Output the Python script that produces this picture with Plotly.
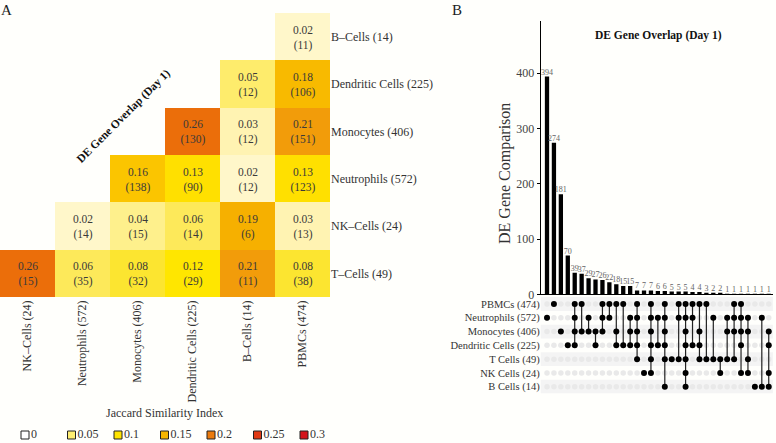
import plotly.graph_objects as go

W, H = 776, 443
BG = "#FFFFFC"
FONT = "Liberation Serif"

# ---------------- Panel A data ----------------
hm_rows = ["B–Cells (14)", "Dendritic Cells (225)", "Monocytes (406)",
           "Neutrophils (572)", "NK–Cells (24)", "T–Cells (49)"]
hm_cols = ["NK–Cells (24)", "Neutrophils (572)", "Monocytes (406)",
           "Dendritic Cells (225)", "B–Cells (14)", "PBMCs (474)"]
jaccard = [
    [None, None, None, None, None, 0.02],
    [None, None, None, None, 0.05, 0.18],
    [None, None, None, 0.26, 0.03, 0.21],
    [None, None, 0.16, 0.13, 0.02, 0.13],
    [None, 0.02, 0.04, 0.06, 0.19, 0.03],
    [0.26, 0.06, 0.08, 0.12, 0.21, 0.08],
]
overlap = [
    [None, None, None, None, None, 11],
    [None, None, None, None, 12, 106],
    [None, None, None, 130, 12, 151],
    [None, None, 138, 90, 12, 123],
    [None, 14, 15, 14, 6, 13],
    [15, 35, 32, 29, 11, 38],
]
legend_vals = ["0", "0.05", "0.1", "0.15", "0.2", "0.25", "0.3"]
legend_cols = ["#FFFFFF", "#FFEE72", "#FFE400", "#F7B600", "#EB7A0C", "#E03A14", "#D3141C"]

# ---------------- Panel B data ----------------
set_names = ["PBMCs (474)", "Neutrophils (572)", "Monocytes (406)",
             "Dendritic Cells (225)", "T Cells (49)", "NK Cells (24)", "B Cells (14)"]
set_keys = ["PBMC", "Neut", "Mono", "DC", "T", "NK", "B"]
counts = [394, 274, 181, 70, 39, 37, 29, 27, 26, 22, 18, 15, 15, 7, 7, 7, 6, 6,
          5, 5, 5, 4, 4, 3, 2, 2, 1, 1, 1, 1, 1, 1, 1]
intersections = [
    ["Neut"], ["PBMC"], ["Mono"], ["DC"],
    ["PBMC", "Neut", "Mono", "DC"], ["PBMC", "Mono"], ["Neut", "Mono"], ["Mono", "DC"],
    ["PBMC", "Neut", "Mono"], ["PBMC", "Neut"], ["PBMC", "Mono", "DC"], ["PBMC", "DC"],
    ["Neut", "Mono", "DC"], ["PBMC", "Neut", "Mono", "DC", "T"], ["NK"],
    ["PBMC", "Neut", "Mono", "DC", "T", "NK"],
    ["Neut", "DC"], ["PBMC", "Neut", "Mono", "DC", "T", "B"], ["T"], ["PBMC", "Neut", "T"],
    ["PBMC", "Neut", "Mono", "DC", "T", "NK", "B"], ["PBMC", "Neut", "DC"],
    ["PBMC", "Mono", "DC", "T"], ["PBMC", "T"],
    ["Neut", "T"], ["T", "NK"], ["Neut", "Mono", "T"], ["PBMC", "Neut", "Mono", "T"],
    ["PBMC", "Neut", "Mono", "DC", "NK"], ["Neut", "Mono", "T", "NK"], ["B"], ["Neut", "B"],
    ["Mono", "DC", "NK", "B"],
]


def fx(p):
    return p / W


def fy(p):
    return 1 - p / H


fig = go.Figure()

# ---- Heatmap ----
text = [["" if j is None else f"{j:.2f}<br>({o})" for j, o in zip(jr, orow)]
        for jr, orow in zip(jaccard, overlap)]
cscale = [
    [0.0, "#FFFFFF"], [0.067, "#FFF7CA"], [0.1, "#FFF3B2"], [0.133, "#FEF08C"],
    [0.167, "#FEEC6C"], [0.2, "#FDE95A"], [0.267, "#FCE530"], [0.4, "#FFE600"],
    [0.433, "#FFE000"], [0.533, "#FBC500"], [0.6, "#F8BA00"], [0.633, "#F6B000"],
    [0.7, "#F29C0A"], [0.867, "#EB6E0A"], [1.0, "#D3141C"],
]
fig.add_trace(go.Heatmap(
    z=jaccard, x=hm_cols, y=hm_rows, text=text, texttemplate="%{text}",
    textfont=dict(family=FONT, size=11.5, color="#3a3a3a"),
    colorscale=cscale, zmin=0, zmax=0.3, showscale=False,
    xaxis="x", yaxis="y", hoverinfo="skip"))

# ---- Jaccard legend (keys) ----
fig.add_trace(go.Scatter(
    x=list(range(len(legend_vals))), y=[0] * len(legend_vals),
    mode="markers+text", text=legend_vals, textposition="middle right",
    textfont=dict(family=FONT, size=12, color="#333"),
    marker=dict(symbol="square", size=8, color=legend_cols,
                line=dict(color="#222", width=1)),
    xaxis="x4", yaxis="y4", showlegend=False, hoverinfo="skip", cliponaxis=False))

# ---- Bars ----
fig.add_trace(go.Bar(
    x=list(range(len(counts))), y=counts, width=0.62,
    marker=dict(color="black", line=dict(width=0)),
    text=[str(c) for c in counts], textposition="outside",
    textfont=dict(family=FONT, size=8, color="#666"),
    outsidetextfont=dict(family=FONT, size=8, color="#666"),
    constraintext="none", cliponaxis=False,
    xaxis="x2", yaxis="y2", showlegend=False, hoverinfo="skip"))

# ---- Matrix ----
ex, ey = [], []
for i in range(len(intersections)):
    for j in range(len(set_keys)):
        ex.append(i)
        ey.append(j)
fig.add_trace(go.Scatter(x=ex, y=ey, mode="markers",
                         marker=dict(size=5.5, color="#E9E9E9"),
                         xaxis="x3", yaxis="y3", showlegend=False, hoverinfo="skip"))
lx, ly, fxs, fys = [], [], [], []
for i, s in enumerate(intersections):
    idx = sorted(set_keys.index(k) for k in s)
    for j in idx:
        fxs.append(i)
        fys.append(j)
    if len(idx) > 1:
        lx += [i, i, None]
        ly += [idx[0], idx[-1], None]
fig.add_trace(go.Scatter(x=lx, y=ly, mode="lines", line=dict(color="#222", width=1.2),
                         xaxis="x3", yaxis="y3", showlegend=False, hoverinfo="skip"))
fig.add_trace(go.Scatter(x=fxs, y=fys, mode="markers",
                         marker=dict(size=6, color="black"),
                         xaxis="x3", yaxis="y3", showlegend=False, hoverinfo="skip"))

shapes = []
for j in range(0, len(set_keys), 2):
    shapes.append(dict(type="rect", xref="x3 domain", yref="y3", x0=0, x1=1,
                       y0=j - 0.5, y1=j + 0.5, fillcolor="#F4F4F4",
                       line=dict(width=0), layer="below"))


def ann(text, x, y, size, color="#333", angle=0):
    return dict(text=text, x=fx(x), y=fy(y), xref="paper", yref="paper",
                showarrow=False, xanchor="center", yanchor="middle",
                textangle=angle, font=dict(size=size, color=color))


xr = [-0.91, 32.6]
fig.update_layout(
    width=W, height=H, margin=dict(l=0, r=0, t=0, b=0, autoexpand=False),
    paper_bgcolor=BG, plot_bgcolor="rgba(0,0,0,0)",
    font=dict(family=FONT, size=11, color="#333"),
    showlegend=False, shapes=shapes,
    xaxis=dict(domain=[0, fx(330)], anchor="y", tickangle=-90, showgrid=False,
               zeroline=False, ticks="", automargin=False,
               tickfont=dict(size=12, color="#333"), fixedrange=True),
    yaxis=dict(domain=[fy(297), fy(13)], anchor="x", autorange="reversed", side="right",
               showgrid=False, zeroline=False, ticks="", automargin=False,
               tickfont=dict(size=12, color="#333"), fixedrange=True),
    xaxis2=dict(domain=[fx(540.7), fx(772.9)], anchor="y2", range=xr, showgrid=False,
                zeroline=False, showticklabels=False, ticks="", automargin=False,
                showline=True, linecolor="black", linewidth=1),
    yaxis2=dict(domain=[fy(294.3), fy(20.7)], anchor="x2", range=[0, 495],
                showgrid=False, automargin=False,
                zeroline=False, showline=True, linecolor="black", linewidth=1,
                ticks="outside", ticklen=3, tickcolor="black",
                tickvals=[0, 100, 200, 300, 400],
                tickfont=dict(size=12, color="#444")),
    xaxis3=dict(domain=[fx(540.7), fx(772.9)], anchor="y3", range=xr, visible=False),
    yaxis3=dict(domain=[fy(393.6), fy(297.1)], anchor="x3", range=[6.5, -0.5],
                tickvals=list(range(len(set_names))), ticktext=set_names,
                showgrid=False, zeroline=False, ticks="", showline=False,
                automargin=False, tickfont=dict(size=10.5, color="#333")),
    xaxis4=dict(domain=[0, 1], anchor="y4", range=[-0.5376, 16.15], visible=False),
    yaxis4=dict(domain=[fy(442), fy(428)], anchor="x4", range=[-1, 1], visible=False),
    annotations=[
        ann("A", 7, 10, 15, "#222"),
        ann("B", 457, 10, 15, "#222"),
        ann("<b>DE Gene Overlap (Day 1)</b>", 123, 116, 11.5, "#111", -45),
        ann("<b>DE Gene Overlap (Day 1)</b>", 658, 35, 11.5, "#111"),
        ann("Jaccard Similarity Index", 164, 413, 12),
        ann("DE Gene Comparison", 505, 174, 16, "#333", -90),
    ],
)

fig.write_html("out.html", config={"displayModeBar": False},
               post_script="document.body.style.margin='0px';")
